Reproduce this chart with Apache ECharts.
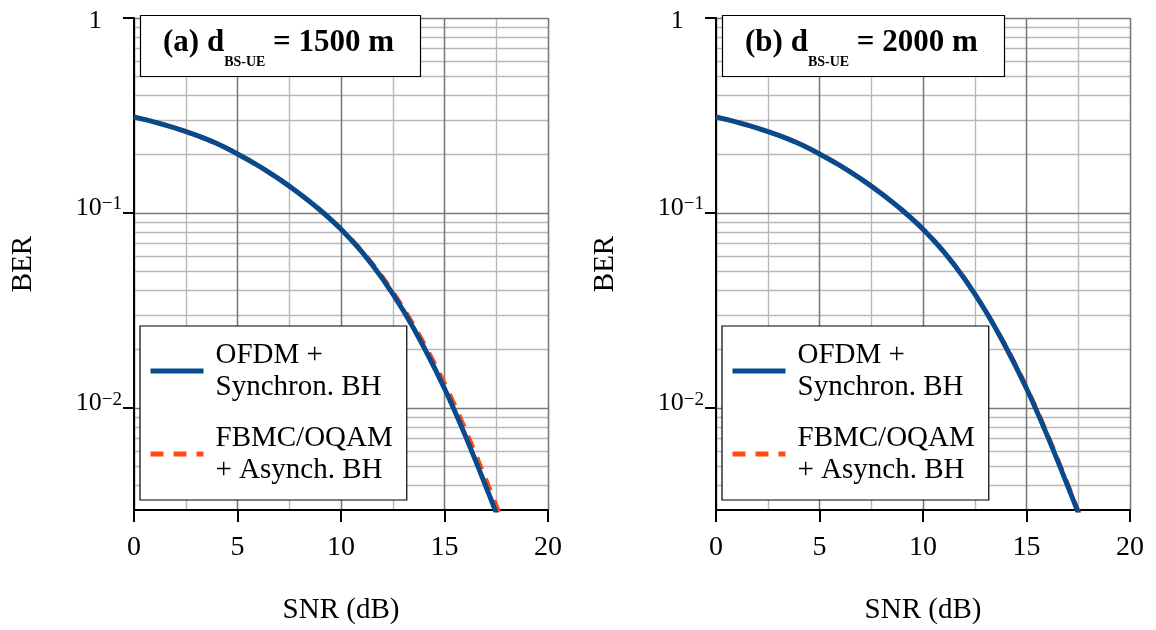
<!DOCTYPE html>
<html><head><meta charset="utf-8">
<script src="https://cdn.jsdelivr.net/npm/echarts@6/dist/echarts.min.js"></script>
<style>html,body{margin:0;padding:0;background:#fff}#c{width:1156px;height:630px}</style>
</head><body><div id="c"></div>
<script>
const FONT = 'Liberation Serif';
// SNR (dB)
const snr = [0,1,2,3,4,5,6,7,8,9,10,11,12,13,14,15,16,17,17.5,18];
// Panel (a) d_BS-UE = 1500 m
const ofdmA = [0.3112,0.2924,0.2723,0.2506,0.2270,0.2009,0.1750,0.1496,0.1256,0.1033,0.0826,0.0634,0.0461,0.0317,0.02056,0.01259,0.00724,0.00396,0.00290,0.00210];
const fbmcA = [0.3112,0.2924,0.2723,0.2506,0.2270,0.2009,0.1750,0.1496,0.1256,0.1033,0.0828,0.0640,0.0470,0.0327,0.0215,0.01340,0.00780,0.00431,0.00316,0.00229];
// Panel (b) d_BS-UE = 2000 m
const ofdmB = [0.3112,0.2924,0.2723,0.2506,0.2270,0.2009,0.1750,0.1496,0.1256,0.1033,0.0826,0.0634,0.0461,0.0317,0.02056,0.01259,0.00724,0.00396,0.00290,0.00210];
const fbmcB = [0.3112,0.2924,0.2723,0.2506,0.2270,0.2009,0.1750,0.1496,0.1256,0.1033,0.0826,0.0634,0.0462,0.0318,0.0208,0.01279,0.00738,0.00404,0.00296,0.00214];
const yMajorTicks = [0.01, 0.1, 1];
const yMinorTicks = [0.004,0.005,0.006,0.007,0.008,0.009,0.02,0.03,0.04,0.05,0.06,0.07,0.08,0.09,0.2,0.3,0.4,0.5,0.6,0.7,0.8,0.9];
const titles = ['{m|(a) d}{s|BS-UE}{m| = 1500 m}', '{m|(b) d}{s|BS-UE}{m| = 2000 m}'];
const names = ['OFDM +\nSynchron. BH', 'FBMC/OQAM\n+ Asynch. BH'];
const xName = 'SNR (dB)';
const yName = 'BER';

const BLUE = '#084a8c', RED = '#ff4a12';
const panels = [
  {left: 134, ofdm: ofdmA, fbmc: fbmcA},
  {left: 716, ofdm: ofdmB, fbmc: fbmcB}
];
const YMIN = 0.003, YMAX = 1;

function pairs(arr){ return snr.map((x,i)=>[x, arr[i]]); }
function yLabel(v){
  const e = Math.round(Math.log10(v));
  if (e === 0) return '{t|1}{tp|\u22121}';
  return '{b|10}{s|\u2212' + (-e) + '}';
}
const grid = [], xAxis = [], yAxis = [], series = [], title = [], legend = [];
panels.forEach((p, k) => {
  grid.push({left: p.left, top: 13, width: 414, height: 497});
  xAxis.push({
    type: 'value', gridIndex: k, min: 0, max: 20, interval: 5, z: 3,
    name: xName, nameLocation: 'middle', nameGap: 86,
    nameTextStyle: {fontFamily: FONT, fontSize: 29, color: '#000'},
    axisLine: {onZero: false, lineStyle: {color: '#000', width: 2}},
    axisTick: {length: 12, lineStyle: {color: '#000', width: 2}},
    axisLabel: {fontFamily: FONT, fontSize: 28, color: '#000', margin: 24},
    splitLine: {show: true, lineStyle: {color: '#7a7a7a', width: 1.4}}
  });
  xAxis.push({
    type: 'value', gridIndex: k, min: 0, max: 20, interval: 2.5, z: 1, position: 'bottom',
    axisLine: {show: false}, axisTick: {show: false}, axisLabel: {show: false},
    splitLine: {show: true, lineStyle: {color: '#b8b8b8', width: 1.4}}
  });
  yAxis.push({
    type: 'log', logBase: 10, gridIndex: k, min: YMIN, max: YMAX, z: 4,
    name: yName, nameLocation: 'middle', nameGap: 96,
    nameTextStyle: {fontFamily: FONT, fontSize: 29, color: '#000'},
    axisLine: {onZero: false, lineStyle: {color: '#000', width: 2}},
    axisTick: {length: 11, customValues: yMajorTicks, lineStyle: {color: '#000', width: 2}},
    axisLabel: {customValues: yMajorTicks, formatter: yLabel, margin: 12, padding: [0,0,10,0],
      fontFamily: FONT, fontSize: 26, color: '#000',
      rich: {
        b: {fontFamily: FONT, fontSize: 26, lineHeight: 26, verticalAlign: 'top', color: '#000'},
        s: {fontFamily: FONT, fontSize: 19, lineHeight: 14, verticalAlign: 'top', color: '#000'},
        t: {fontFamily: FONT, fontSize: 26, lineHeight: 26, verticalAlign: 'top', color: '#000', padding: [8,0,0,0]},
        tp: {fontFamily: FONT, fontSize: 19, lineHeight: 14, verticalAlign: 'top', color: 'rgba(0,0,0,0)'}
      }},
    splitLine: {show: true, lineStyle: {color: '#7a7a7a', width: 1.4}}
  });
  yAxis.push({
    type: 'log', logBase: 10, gridIndex: k, min: YMIN, max: YMAX, z: 1,
    axisLine: {show: false}, axisLabel: {show: false},
    axisTick: {show: false, customValues: yMinorTicks},
    splitLine: {show: true, lineStyle: {color: '#b8b8b8', width: 1.4}}
  });
  series.push({
    name: names[1], type: 'line', xAxisIndex: 2*k, yAxisIndex: 2*k, data: pairs(p.fbmc),
    symbol: 'none', smooth: 0.3, clip: true, z: 5,
    lineStyle: {color: RED, width: 4.5, type: [13, 10]}, itemStyle: {color: RED}
  });
  series.push({
    name: names[0], type: 'line', xAxisIndex: 2*k, yAxisIndex: 2*k, data: pairs(p.ofdm),
    symbol: 'none', smooth: 0.3, clip: true, z: 6,
    lineStyle: {color: BLUE, width: 5}, itemStyle: {color: BLUE}
  });
  title.push({
    text: titles[k], left: p.left + 6, top: 15, z: 10,
    backgroundColor: '#fff', borderColor: '#000', borderWidth: 1.2,
    padding: [12, 27, 8, 23],
    textStyle: {
      fontFamily: FONT, fontWeight: 'bold', fontSize: 31, color: '#000',
      rich: {
        m: {fontFamily: FONT, fontWeight: 'bold', fontSize: 31, lineHeight: 36, verticalAlign: 'top', color: '#000'},
        s: {fontFamily: FONT, fontWeight: 'bold', fontSize: 14, lineHeight: 14, verticalAlign: 'top', padding: [28,0,0,0], color: '#000'}
      }
    }
  });
  legend.push({
    data: [
      {name: names[0], lineStyle: {color: BLUE, width: 5, type: 'solid'}},
      {name: names[1], lineStyle: {color: RED, width: 5, type: [13, 10]}}
    ],
    orient: 'vertical', left: p.left + 6, top: 326, z: 10,
    backgroundColor: '#fff', borderColor: '#000', borderWidth: 1.2,
    padding: [13, 14, 14, 8], itemWidth: 53, itemHeight: 14, itemGap: 19,
    selectedMode: false,
    itemStyle: {color: 'rgba(0,0,0,0)', borderWidth: 0, opacity: 0},
    textStyle: {fontFamily: FONT, fontSize: 29, lineHeight: 32, color: '#000', padding: [0,0,0,7]}
  });
});

const chart = echarts.init(document.getElementById('c'), null, {renderer: 'canvas'});
chart.setOption({animation: false, backgroundColor: '#fff', grid, xAxis, yAxis, series, title, legend});
</script>
</body></html>
